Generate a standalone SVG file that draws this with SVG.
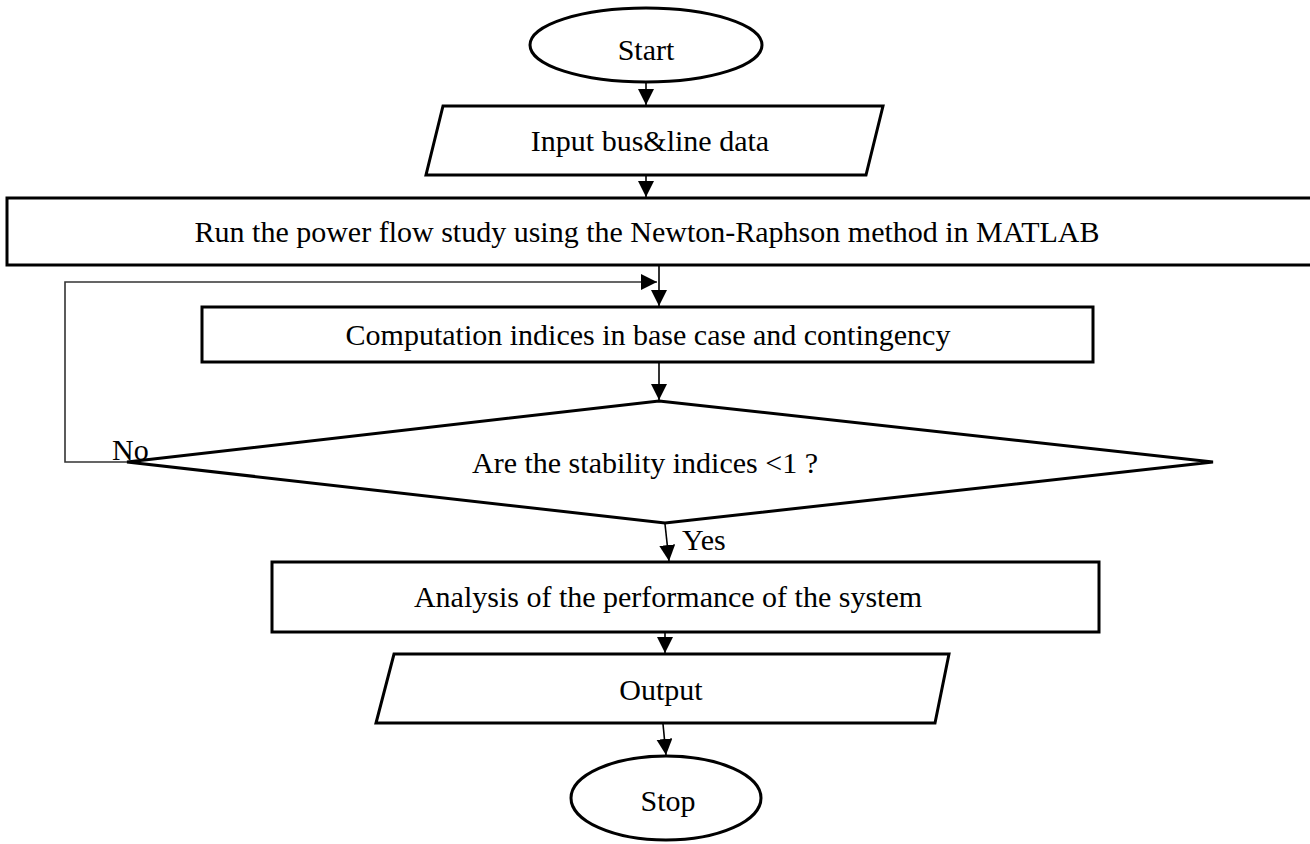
<svg xmlns="http://www.w3.org/2000/svg" width="1310" height="844" viewBox="0 0 1310 844">
<defs>
<marker id="ah" markerUnits="userSpaceOnUse" markerWidth="16" markerHeight="20" viewBox="0 0 16 20" refX="16" refY="8" orient="auto">
<path d="M0,0 L16,8 L0,16 Z" fill="#000"/>
</marker>
</defs>
<style>
.shape{fill:#fff;stroke:#000;stroke-width:3}
.lbl{font-family:"Liberation Serif","Times New Roman",serif;font-size:30px;fill:#000}
.mid{text-anchor:middle}
.conn{fill:none;stroke:#000;stroke-width:1.6}
.loop{fill:none;stroke:#333;stroke-width:1.6}
</style>
<rect width="1310" height="844" fill="#fff"/>
<g id="start"><ellipse class="shape" cx="646" cy="45" rx="116" ry="37"/><text class="lbl mid" x="646" y="60">Start</text></g>
<g id="input"><polygon class="shape" points="443,106 883,106 866,175 426,175"/><text class="lbl mid" x="650" y="151">Input bus&amp;line data</text></g>
<g id="run"><rect class="shape" x="7" y="198" width="1310" height="67"/><text class="lbl mid" x="647" y="242">Run the power flow study using the Newton-Raphson method in MATLAB</text></g>
<g id="compute"><rect class="shape" x="202" y="307" width="891" height="55"/><text class="lbl mid" x="648" y="345">Computation indices in base case and contingency</text></g>
<g id="decision"><polygon class="shape" points="659,401 1213,462 665,523 127,462"/><text class="lbl mid" x="645" y="473">Are the stability indices &lt;1 ?</text></g>
<g id="analysis"><rect class="shape" x="272" y="562" width="827" height="70"/><text class="lbl mid" x="668" y="607">Analysis of the performance of the system</text></g>
<g id="output"><polygon class="shape" points="394,654 949,654 935,723 376,723"/><text class="lbl mid" x="661" y="700">Output</text></g>
<g id="stop"><ellipse class="shape" cx="666" cy="798" rx="95" ry="42"/><text class="lbl mid" x="668" y="811">Stop</text></g>
<g id="connectors">
<line class="conn" x1="646" y1="83" x2="646" y2="105" marker-end="url(#ah)"/>
<line class="conn" x1="646" y1="176" x2="646" y2="197" marker-end="url(#ah)"/>
<line class="conn" x1="659" y1="266" x2="659" y2="306" marker-end="url(#ah)"/>
<polyline class="loop" points="127,462 65,462 65,282 657,282" marker-end="url(#ah)"/>
<line class="conn" x1="659" y1="363" x2="659" y2="400" marker-end="url(#ah)"/>
<line class="conn" x1="665" y1="524" x2="669" y2="561" marker-end="url(#ah)"/>
<line class="conn" x1="665" y1="633" x2="665" y2="653" marker-end="url(#ah)"/>
<line class="conn" x1="663" y1="724" x2="666" y2="755" marker-end="url(#ah)"/>
<text class="lbl" x="112" y="460">No</text>
<text class="lbl" x="682" y="550">Yes</text>
</g>
</svg>
